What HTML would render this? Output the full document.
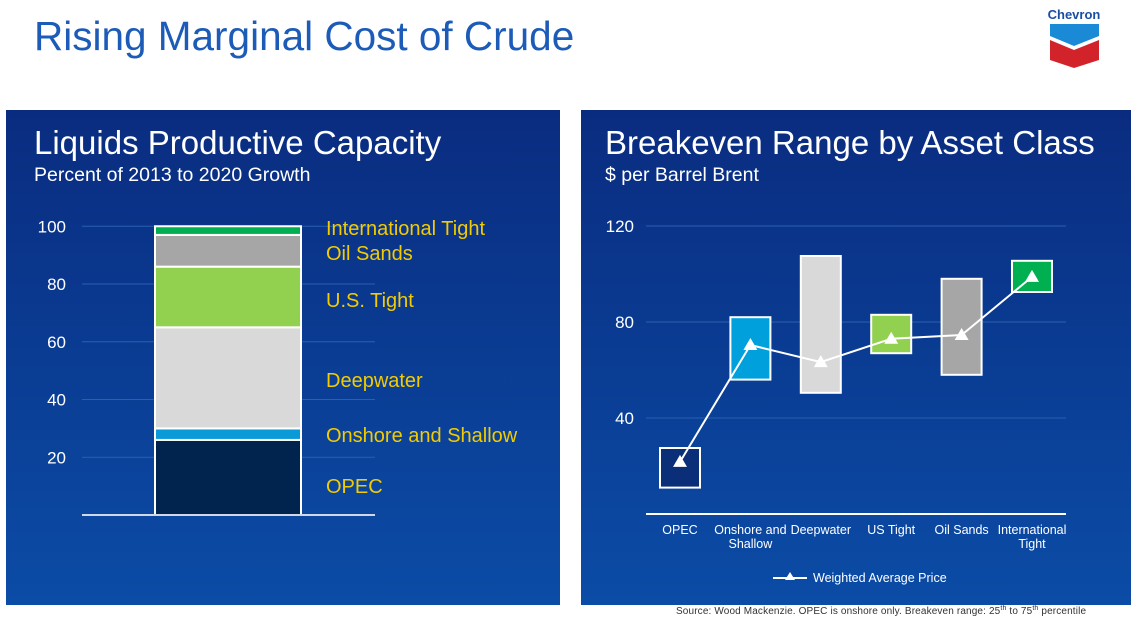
<!DOCTYPE html>
<html><head><meta charset="utf-8"><style>
body{margin:0;width:1143px;height:618px;background:#fff;position:relative;overflow:hidden;font-family:"Liberation Sans",sans-serif}
.t{position:absolute;white-space:nowrap}
</style></head><body>
<div class="t" style="left:34px;top:13px;font-size:40.5px;color:#1c5cb8">Rising Marginal Cost of Crude</div>
<svg style="position:absolute;left:1045px;top:4px" width="60" height="64" viewBox="0 0 60 64">
<text x="29" y="15" text-anchor="middle" font-family="Liberation Sans" font-weight="bold" font-size="13" fill="#1a4ea3">Chevron</text>
<polygon points="5,20 54,20 54,32 29,42 5,32" fill="#1a8ad6"/>
<polygon points="5,36 29,46 54,36 54,56 29,64 5,56" fill="#d2232a"/>
</svg>
<svg width="1143" height="618" style="position:absolute;left:0;top:0" id="s">
<defs><linearGradient id="g" x1="0" y1="0" x2="0" y2="1"><stop offset="0" stop-color="#0a2c80"/><stop offset="1" stop-color="#0b4ca6"/></linearGradient></defs>
<rect x="6" y="110" width="554" height="495" fill="url(#g)"/>
<rect x="581" y="110" width="550" height="495" fill="url(#g)"/>
<text x="34" y="154" fill="#fff" font-size="33">Liquids Productive Capacity</text>
<text x="34" y="181" fill="#fff" font-size="19.5">Percent of 2013 to 2020 Growth</text>
<text x="605" y="154" fill="#fff" font-size="33">Breakeven Range by Asset Class</text>
<text x="605" y="181" fill="#fff" font-size="19.5">$ per Barrel Brent</text>
<g id="L"></g><g id="R"></g>
<text x="676" y="614" fill="#333" font-size="10" textLength="410">Source: Wood Mackenzie. OPEC is onshore only.  Breakeven range: 25<tspan font-size="7" dy="-4">th</tspan><tspan dy="4"> to 75</tspan><tspan font-size="7" dy="-4">th</tspan><tspan dy="4"> percentile</tspan></text>
</svg>
<script>
const stackCats=["OPEC","Onshore and Shallow","Deepwater","U.S. Tight","Oil Sands","International Tight"];
const stackVals=[26,4,35,21,11,3];
const stackColors=["#01244f","#0a9ad8","#d9d9d9","#92d050","#a6a6a6","#00b050"];
const leftTicks=[20,40,60,80,100];
const rangeCats=["OPEC","Onshore and|Shallow","Deepwater","US Tight","Oil Sands","International|Tight"];
const rangeLow=[11,56,50.5,67,58,92.5];
const rangeHigh=[27.5,82,107.5,83,98,105.5];
const avgPrice=[21.7,70.4,63.3,73,74.6,98.8];
const rangeColors=["#0a2e78","#00a0dc","#d9d9d9","#92d050","#a6a6a6","#00b050"];
const rightTicks=[40,80,120];
const NS="http://www.w3.org/2000/svg";
function mk(p,tag,at,txt){const e=document.createElementNS(NS,tag);for(const k in at)e.setAttribute(k,at[k]);if(txt!=null)e.textContent=txt;p.appendChild(e);return e;}
const L=document.getElementById('L');
const yL=v=>515-v*2.8875;
leftTicks.forEach(t=>{
 const l=mk(L,'line',{x1:82,x2:375,y1:yL(t),y2:yL(t),stroke:'#2a5fb0','stroke-width':1});
 
 
 const tx=mk(L,'text',{x:66,y:yL(t)+6,'text-anchor':'end',fill:'#fff','font-size':17},t);
 
 
});
let cum=0;
const labY=[486,435,380,300,253,228];
stackVals.forEach((v,i)=>{
 const r=mk(L,'rect',{x:155,y:yL(cum+v),width:146,height:v*2.8875,fill:stackColors[i],stroke:'#fff','stroke-width':2});
 
 
 cum+=v;
 const tx=mk(L,'text',{x:326,y:labY[i]+7,fill:'#f2cb00','font-size':20},stackCats[i]);
 
 
});
const ax=mk(L,'line',{x1:82,x2:375,y1:515,y2:515,stroke:'#d0d8e8','stroke-width':2});


const R=document.getElementById('R');
const yR=v=>514-v*2.4;
const xR=i=>680+i*70.4;
rightTicks.forEach(t=>{
 const l=mk(R,'line',{x1:646,x2:1066,y1:yR(t),y2:yR(t),stroke:'#2a5fb0','stroke-width':1});
 
 
 const tx=mk(R,'text',{x:634,y:yR(t)+6,'text-anchor':'end',fill:'#fff','font-size':17},t);
 
 
});
rangeCats.forEach((c,i)=>{
 const r=mk(R,'rect',{x:xR(i)-20,y:yR(rangeHigh[i]),width:40,height:(rangeHigh[i]-rangeLow[i])*2.4,fill:rangeColors[i],stroke:'#fff','stroke-width':2});
 
 
 c.split('|').forEach((s,j)=>{
  const tx=mk(R,'text',{x:xR(i),y:534+j*14,'text-anchor':'middle',fill:'#fff','font-size':12.5},s);
  
  
 });
});
const pl=mk(R,'polyline',{points:avgPrice.map((v,i)=>xR(i)+','+yR(v)).join(' '),fill:'none',stroke:'#fff','stroke-width':2});


avgPrice.forEach((v,i)=>{
 const x=xR(i),y=yR(v);
 const p=mk(R,'polygon',{points:`${x},${y-7} ${x-7},${y+5} ${x+7},${y+5}`,fill:'#fff'});
 
 
});
const ax2=mk(R,'line',{x1:646,x2:1066,y1:514,y2:514,stroke:'#fff','stroke-width':2});


const lg=mk(R,'g',{});


mk(lg,'line',{x1:773,x2:807,y1:578,y2:578,stroke:'#fff','stroke-width':2});
mk(lg,'polygon',{points:'790,572 785,580 795,580',fill:'#fff'});
mk(lg,'text',{x:813,y:582,fill:'#fff','font-size':12.5},'Weighted Average Price');
</script>
</body></html>
